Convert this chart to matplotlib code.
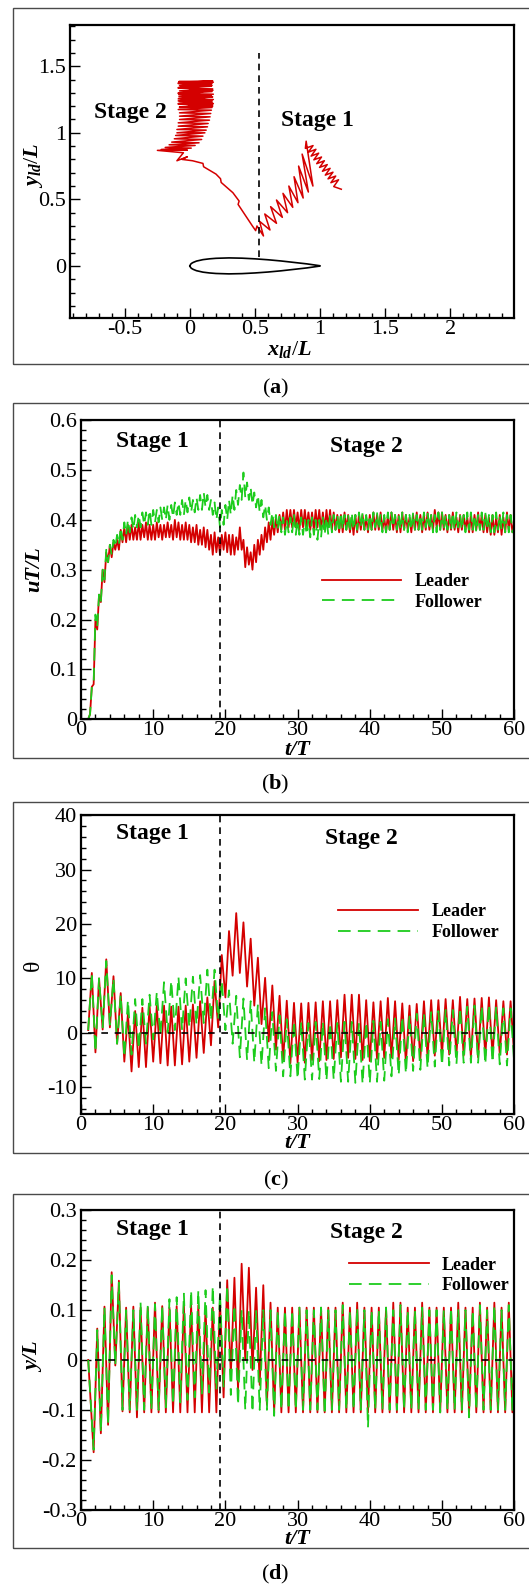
import numpy as np
import matplotlib.pyplot as plt
from matplotlib.patches import Rectangle

plt.rcParams['font.family'] = 'Liberation Serif'
plt.rcParams['mathtext.fontset'] = 'custom'
plt.rcParams['mathtext.rm'] = 'Liberation Serif'
plt.rcParams['mathtext.it'] = 'Liberation Serif:italic:bold'
plt.rcParams['mathtext.bf'] = 'Liberation Serif:bold'
plt.rcParams['axes.unicode_minus'] = False

RED = '#d40000'
GREEN = '#1ccc1c'

# ---- (a) leader trajectory relative to follower (time order) ----
# stage 1: dense band from the start point, then the zigzag down to the follower
stage1_x = [1.163, 1.105, 1.142, 1.083, 1.120, 1.061, 1.099, 1.040, 1.077, 1.018, 1.055,
            0.996, 1.033, 0.974, 1.011, 0.952, 0.989, 0.931, 0.968, 0.909, 0.946, 0.887,
            0.893,
            0.945, 0.862, 0.910, 0.835, 0.870, 0.800, 0.830, 0.760, 0.790, 0.715,
            0.750, 0.665, 0.710, 0.620, 0.665, 0.575, 0.615, 0.535, 0.565]
stage1_y = [0.576, 0.596, 0.647, 0.625, 0.675, 0.654, 0.704, 0.682, 0.733, 0.711, 0.761,
            0.740, 0.790, 0.768, 0.818, 0.797, 0.847, 0.825, 0.876, 0.854, 0.904, 0.883,
            0.937,
            0.600, 0.840, 0.555, 0.750, 0.510, 0.670, 0.475, 0.600, 0.440, 0.545,
            0.400, 0.495, 0.365, 0.445, 0.320, 0.390, 0.270, 0.335, 0.225]
# transition between the stages (long moves with small kinks)
trans_x = [0.515, 0.505, 0.48, 0.37, 0.378, 0.33, 0.24, 0.235, 0.20, 0.105, 0.10,
           0.02, -0.06, -0.02, -0.10]
trans_y = [0.30, 0.265, 0.30, 0.462, 0.487, 0.55, 0.627, 0.655, 0.69, 0.745, 0.77,
           0.79, 0.80, 0.82, 0.79]
# stage 2: side-to-side strokes drifting up, then the dense block near y = 1.2-1.4
stage2_x = [-0.05, -0.25, -0.02, -0.22, 0.01, -0.19, 0.04, -0.16, 0.07, -0.14, 0.09, -0.12,
            0.10, -0.11, 0.115, -0.10, 0.125, -0.10, 0.135, -0.09, 0.14, -0.09, 0.15, -0.08,
            0.155, -0.08, 0.16, -0.08,
            0.165, -0.09, 0.17, -0.08, 0.175, -0.09, 0.17, -0.08, 0.18, -0.09, 0.175, -0.085,
            0.18, -0.09, 0.17, -0.08, 0.175, -0.09, 0.165, -0.08, 0.17, -0.09, 0.175, -0.085,
            0.18, -0.09, 0.17, -0.08, 0.175, -0.09, 0.165, -0.085, 0.17, -0.09, 0.175, -0.08,
            0.18, -0.09, 0.17, -0.085, 0.175, -0.09, 0.165, -0.08]
stage2_y = [0.85, 0.868, 0.87, 0.875, 0.885, 0.89, 0.905, 0.91, 0.925, 0.93, 0.95, 0.955,
            0.975, 0.98, 1.00, 1.00, 1.02, 1.025, 1.045, 1.05, 1.07, 1.075, 1.095, 1.10,
            1.12, 1.125, 1.145, 1.15,
            1.17, 1.175, 1.19, 1.195, 1.21, 1.215, 1.23, 1.235, 1.25, 1.255, 1.27, 1.275,
            1.29, 1.295, 1.31, 1.315, 1.33, 1.335, 1.35, 1.355, 1.37, 1.375, 1.39, 1.385,
            1.38, 1.37, 1.355, 1.34, 1.32, 1.30, 1.28, 1.26, 1.24, 1.22, 1.20, 1.19,
            1.22, 1.24, 1.27, 1.29, 1.32, 1.34, 1.36, 1.38]

# follower airfoil (upper half thickness)
foil_x = [0.0, 0.005, 0.0125, 0.025, 0.05, 0.1, 0.15, 0.2, 0.3, 0.4, 0.5, 0.6, 0.7, 0.8, 0.9, 1.0]
foil_t = [0.0, 0.012, 0.019, 0.026, 0.036, 0.047, 0.053, 0.057, 0.060, 0.058, 0.053, 0.046,
          0.037, 0.026, 0.015, 0.001]

# ---- (b) uT/L, extrema every 0.25 T from t = 1 ----
ut_leader = [0.0, 0.01, 0.065, 0.07, 0.20, 0.18, 0.25, 0.235, 0.30, 0.275, 0.335, 0.315,
             0.35, 0.325, 0.355, 0.34, 0.36, 0.34, 0.38, 0.355, 0.385, 0.355, 0.39, 0.36,
             0.39, 0.36, 0.385, 0.36, 0.395, 0.36, 0.39, 0.365, 0.395, 0.36, 0.39, 0.36,
             0.39, 0.36, 0.395, 0.365, 0.39, 0.36, 0.39, 0.365, 0.395, 0.365, 0.39, 0.36,
             0.40, 0.365, 0.395, 0.36, 0.39, 0.36, 0.395, 0.36, 0.39, 0.355, 0.385, 0.355,
             0.39, 0.35, 0.38, 0.35, 0.385, 0.345, 0.38, 0.34, 0.37, 0.33, 0.375, 0.335,
             0.365, 0.33, 0.37, 0.34, 0.375, 0.335, 0.37, 0.33, 0.37, 0.33, 0.365, 0.34,
             0.385, 0.34, 0.36, 0.305, 0.345, 0.31, 0.335, 0.30, 0.35, 0.315, 0.36, 0.33,
             0.37, 0.34, 0.385, 0.355, 0.395, 0.36, 0.40, 0.37, 0.405, 0.375, 0.41, 0.38,
             0.415, 0.38, 0.42, 0.385, 0.42, 0.385, 0.42, 0.385, 0.415, 0.38, 0.42, 0.385,
             0.42, 0.385, 0.415, 0.38, 0.415, 0.38, 0.42, 0.385, 0.42, 0.38, 0.415, 0.38,
             0.42, 0.385, 0.42, 0.38, 0.415, 0.38, 0.41, 0.375, 0.41, 0.375, 0.415, 0.38,
             0.41, 0.375, 0.405, 0.37, 0.41, 0.375, 0.41, 0.38, 0.41, 0.38, 0.405, 0.375,
             0.41, 0.38, 0.415, 0.38, 0.41, 0.38, 0.415, 0.38, 0.405, 0.375, 0.41, 0.38,
             0.415, 0.38, 0.41, 0.375, 0.41, 0.375, 0.415, 0.38, 0.41, 0.38, 0.405, 0.375,
             0.41, 0.38, 0.415, 0.38, 0.41, 0.375, 0.41, 0.38, 0.415, 0.38, 0.41, 0.38,
             0.42, 0.385, 0.415, 0.38, 0.415, 0.38, 0.41, 0.375, 0.41, 0.38, 0.415, 0.38,
             0.405, 0.375, 0.41, 0.38, 0.41, 0.38, 0.405, 0.375, 0.41, 0.375, 0.41, 0.38,
             0.415, 0.38, 0.41, 0.375, 0.41, 0.375, 0.405, 0.37, 0.41, 0.37, 0.405, 0.375,
             0.41, 0.37, 0.405, 0.375, 0.415, 0.38, 0.41, 0.375, 0.395]
ut_follower = [0.0, 0.01, 0.065, 0.07, 0.21, 0.185, 0.25, 0.235, 0.30, 0.28, 0.34, 0.315,
               0.35, 0.33, 0.36, 0.345, 0.37, 0.35, 0.385, 0.36, 0.395, 0.37, 0.40, 0.375,
               0.405, 0.38, 0.41, 0.385, 0.41, 0.385, 0.415, 0.39, 0.415, 0.39, 0.42, 0.39,
               0.42, 0.395, 0.42, 0.395, 0.425, 0.40, 0.425, 0.40, 0.43, 0.40, 0.43, 0.405,
               0.435, 0.41, 0.435, 0.41, 0.44, 0.41, 0.44, 0.415, 0.445, 0.415, 0.44, 0.415,
               0.445, 0.42, 0.45, 0.42, 0.455, 0.425, 0.45, 0.42, 0.44, 0.41, 0.435, 0.40,
               0.425, 0.385, 0.42, 0.39, 0.43, 0.40, 0.44, 0.41, 0.45, 0.42, 0.46, 0.43,
               0.47, 0.44, 0.495, 0.445, 0.475, 0.44, 0.465, 0.43, 0.455, 0.425, 0.45, 0.415,
               0.44, 0.405, 0.43, 0.40, 0.425, 0.39, 0.415, 0.385, 0.41, 0.38, 0.41, 0.375,
               0.405, 0.37, 0.40, 0.375, 0.405, 0.375, 0.41, 0.37, 0.40, 0.37, 0.405, 0.37,
               0.40, 0.37, 0.40, 0.365, 0.405, 0.37, 0.40, 0.36, 0.40, 0.365, 0.405, 0.37,
               0.405, 0.37, 0.41, 0.375, 0.41, 0.38, 0.41, 0.375, 0.415, 0.38, 0.41, 0.38,
               0.41, 0.375, 0.415, 0.38, 0.41, 0.38, 0.415, 0.385, 0.415, 0.38, 0.41, 0.38,
               0.41, 0.38, 0.415, 0.385, 0.415, 0.38, 0.41, 0.375, 0.41, 0.375, 0.415, 0.38,
               0.415, 0.385, 0.41, 0.38, 0.41, 0.38, 0.415, 0.38, 0.41, 0.375, 0.41, 0.38,
               0.415, 0.38, 0.41, 0.38, 0.41, 0.38, 0.415, 0.385, 0.415, 0.38, 0.41, 0.375,
               0.41, 0.375, 0.415, 0.38, 0.415, 0.38, 0.41, 0.38, 0.41, 0.38, 0.415, 0.38,
               0.415, 0.385, 0.41, 0.38, 0.41, 0.375, 0.415, 0.38, 0.415, 0.38, 0.41, 0.375,
               0.41, 0.38, 0.415, 0.38, 0.415, 0.38, 0.41, 0.375, 0.41, 0.375, 0.415, 0.38,
               0.41, 0.38, 0.415, 0.375, 0.41, 0.375, 0.41, 0.375, 0.385]

# ---- (c) pitch angle, extrema every 0.5 T from t = 1 ----
theta_leader = [0.5, 11.0, -3.6, 10.0, 0.6, 13.5, 1.0, 10.4, -2.0, 7.3, -5.3, 3.5,
                -7.1, 4.0, -6.3, 4.6, -6.3, 5.0, -5.3, 5.0, -5.6, 5.0, -6.0, 4.8,
                -6.0, 4.8, -5.8, 5.0, -5.3, 5.2, -4.6, 5.8, -3.7, 6.5, -2.3, 9.5,
                1.0, 14.3, 6.5, 18.7, 10.5, 22.0, 11.0, 20.3, 8.5, 17.3, 5.0, 13.8,
                1.6, 10.1, -1.6, 8.7, -3.1, 6.8, -5.0, 5.9, -5.6, 5.5, -5.5, 5.4,
                -5.5, 5.5, -5.0, 5.6, -5.2, 5.8, -5.0, 5.8, -4.8, 6.0, -4.5, 7.0,
                -4.6, 7.0, -4.8, 7.0, -5.0, 6.0, -5.2, 5.6, -4.8, 5.8, -4.6, 6.4,
                -4.5, 5.8, -5.0, 5.4, -5.5, 5.0, -5.2, 5.3, -4.8, 5.8, -4.5, 6.0,
                -4.2, 6.0, -4.0, 6.2, -4.0, 6.0, -4.0, 6.6, -4.2, 6.2, -4.5, 6.3,
                -4.5, 6.4, -4.2, 6.5, -4.2, 6.0, -4.0, 5.8, -4.0, 5.8, -4.0]
theta_follower = [0.5, 11.0, -3.5, 10.0, 1.0, 13.2, 1.5, 10.0, -2.0, 7.0, -4.5, 6.0,
                  -4.0, 6.2, -3.0, 6.2, -2.0, 7.0, -1.2, 7.5, -0.5, 9.3, 0.0, 9.6,
                  0.5, 10.3, 0.5, 10.0, 1.0, 10.3, 1.5, 10.6, 1.8, 11.6, 2.2, 11.6,
                  2.5, 9.5, 0.5, 7.8, -2.0, 6.8, -4.5, 6.3, -5.0, 5.8, -5.5, 5.2,
                  -6.0, 4.5, -6.5, 3.8, -7.0, 3.2, -8.0, 2.5, -8.0, 2.2, -8.5, 2.0,
                  -8.6, 1.8, -8.6, 2.0, -8.5, 2.0, -8.8, 1.8, -8.6, 1.8, -9.0, 2.0,
                  -9.0, 2.0, -9.2, 1.8, -9.4, 2.0, -9.3, 2.2, -9.0, 2.0, -8.8, 2.5,
                  -8.0, 2.6, -7.8, 3.0, -7.5, 3.0, -7.0, 3.5, -6.8, 3.6, -6.5, 3.8,
                  -6.2, 4.0, -6.0, 4.2, -6.0, 4.2, -5.8, 4.6, -5.5, 4.8, -5.5, 5.0,
                  -5.5, 5.0, -5.8, 5.2, -5.5, 4.8, -5.8, 4.5, -6.0, 4.5, -5.5]

# ---- (d) lateral position: value at t = 1, then extrema every 0.5 T from t = 1.75 ----
yl_leader = [0.0, -0.185, 0.063, -0.147, 0.107, -0.13, 0.176, -0.011, 0.159, -0.103, 0.105,
             -0.105, 0.107, -0.115, 0.105, -0.105, 0.105, -0.105, 0.115, -0.105, 0.108,
             -0.105, 0.105, -0.105, 0.108, -0.105, 0.11, -0.105, 0.11, -0.105, 0.11,
             -0.105, 0.105, -0.105, 0.105, -0.105, 0.12, -0.075, 0.16, -0.03, 0.165,
             -0.06, 0.193, 0.0, 0.185, -0.02, 0.145, -0.05, 0.15, -0.09, 0.115,
             -0.105, 0.105, -0.105, 0.105, -0.105, 0.105, -0.105, 0.105, -0.105, 0.105,
             -0.105, 0.105, -0.105, 0.105, -0.105, 0.105, -0.105, 0.105, -0.105, 0.115,
             -0.105, 0.105, -0.105, 0.115, -0.105, 0.105, -0.105, 0.105, -0.105, 0.105,
             -0.105, 0.105, -0.105, 0.115, -0.105, 0.115, -0.105, 0.105, -0.105, 0.105,
             -0.105, 0.115, -0.105, 0.105, -0.105, 0.105, -0.105, 0.105, -0.105, 0.105,
             -0.105, 0.115, -0.105, 0.105, -0.105, 0.105, -0.105, 0.115, -0.105, 0.105,
             -0.105, 0.115, -0.105, 0.105, -0.105, 0.115, -0.105, 0.105]
yl_follower = [0.0, -0.18, 0.06, -0.145, 0.105, -0.13, 0.17, -0.01, 0.155, -0.1, 0.1,
               -0.1, 0.1, -0.1, 0.115, -0.1, 0.11, -0.1, 0.112, -0.1, 0.11,
               -0.095, 0.122, -0.09, 0.126, -0.085, 0.133, -0.08, 0.14, -0.075, 0.14,
               -0.07, 0.14, -0.065, 0.148, -0.06, 0.135, -0.055, 0.15, -0.07, 0.11,
               -0.09, 0.1, -0.1, 0.1, -0.105, 0.1, -0.1, 0.1, -0.1, 0.1,
               -0.112, 0.1, -0.1, 0.1, -0.1, 0.1, -0.1, 0.105, -0.1, 0.1,
               -0.1, 0.1, -0.1, 0.105, -0.11, 0.1, -0.1, 0.1, -0.1, 0.11,
               -0.1, 0.1, -0.1, 0.105, -0.1, 0.1, -0.135, 0.1, -0.1, 0.1,
               -0.1, 0.105, -0.1, 0.1, -0.1, 0.11, -0.1, 0.1, -0.1, 0.1,
               -0.1, 0.105, -0.1, 0.1, -0.1, 0.1, -0.105, 0.1, -0.1, 0.105,
               -0.1, 0.1, -0.1, 0.1, -0.115, 0.1, -0.1, 0.11, -0.1, 0.1,
               -0.1, 0.11, -0.1, 0.1, -0.1, 0.11, -0.1, 0.1]

t_switch = 19.2  # end of stage 1

t_u = 1.0 + 0.25 * np.arange(len(ut_leader))
t_th = 1.0 + 0.5 * np.arange(len(theta_leader))
t_y = np.concatenate([[1.0], 1.75 + 0.5 * np.arange(len(yl_leader) - 1)])

W, H = 529, 1584
fig = plt.figure(figsize=(W / 100, H / 100), dpi=100)


def px_axes(left, top, right, bottom):
    return fig.add_axes([left / W, 1 - bottom / H, (right - left) / W, (bottom - top) / H])


def frame(top, bottom):
    fig.add_artist(Rectangle((12.8 / W, 1 - bottom / H), (560 - 12.8) / W, (bottom - top) / H,
                             transform=fig.transFigure, fill=False, ec='#4a4a4a', lw=1.0))


def style(ax, xmaj, xlab, xminor, ymaj, ylab, yminor):
    ax.set_xticks(xmaj)
    ax.set_xticklabels(xlab)
    ax.set_xticks(xminor, minor=True)
    ax.set_yticks(ymaj)
    ax.set_yticklabels(ylab)
    ax.set_yticks(yminor, minor=True)
    ax.tick_params(which='both', direction='in', top=False, right=False, labelsize=16)
    ax.tick_params(axis='x', which='both', pad=1.5)
    ax.tick_params(axis='y', which='both', pad=3)
    ax.tick_params(which='major', length=7, width=1.0)
    ax.tick_params(which='minor', length=3.5, width=1.0)
    for s in ax.spines.values():
        s.set_linewidth(1.6)


def legend(ax, x, y):
    ax.legend(loc='center left', bbox_to_anchor=(x, y), frameon=False, borderpad=0,
              borderaxespad=0, handlelength=4.4, handletextpad=0.75, labelspacing=0.2,
              prop={'weight': 'bold', 'size': 13})


stage_kw = dict(fontsize=17, fontweight='bold', ha='center', va='center')
lab_kw = dict(fontsize=16, fontweight='bold', fontstyle='italic')
dash_k = (0, (4, 3))
dash_g = (0, (7, 4))

# ---------------- (a) ----------------
frame(8, 363.7)
ax = px_axes(70.2, 25, 514, 317.8)
ax.plot(stage1_x + trans_x + stage2_x, stage1_y + trans_y + stage2_y, color=RED, lw=1.1)
fx = np.array(foil_x)
ft = np.array(foil_t)
ax.plot(np.concatenate([fx, fx[::-1]]), np.concatenate([ft, -ft[::-1]]), color='k', lw=1.2)
ax.plot([0.534, 0.534], [0.07, 1.60], color='k', lw=1.2, ls=dash_k)
ax.set_xlim(-0.92, 2.49)
ax.set_ylim(-0.39, 1.81)
style(ax, [-0.5, 0, 0.5, 1, 1.5, 2], ['-0.5', '0', '0.5', '1', '1.5', '2'],
      np.arange(-0.9, 2.45, 0.1),
      [0, 0.5, 1, 1.5], ['0', '0.5', '1', '1.5'], np.arange(-0.3, 1.85, 0.1))
ax.text(-0.456, 1.153, 'Stage 2', **stage_kw)
ax.text(0.977, 1.089, 'Stage 1', **stage_kw)
ax.set_xlabel(r'$x_{ld}/L$', fontsize=16, va='center')
ax.xaxis.set_label_coords(0.495, -0.108)
ax.set_ylabel(r'$y_{ld}/L$', fontsize=16, va='center', ha='center')
ax.yaxis.set_label_coords(-0.082, 0.522)
fig.text(275.6 / W, 1 - 388 / H, r'($\mathbf{a}$)', fontsize=16, ha='center', va='center')

# ---------------- (b) ----------------
frame(403.4, 758.3)
ax = px_axes(81, 420.2, 514.2, 719.2)
ax.plot(t_u, ut_leader, color=RED, lw=1.3, label='Leader')
ax.plot(t_u, ut_follower, color=GREEN, lw=1.3, ls=dash_g, label='Follower')
ax.axvline(t_switch, color='k', lw=1.2, ls=dash_k, zorder=5)
ax.set_xlim(0, 60)
ax.set_ylim(0, 0.6)
style(ax, np.arange(0, 61, 10), ['0', '10', '20', '30', '40', '50', '60'], np.arange(0, 61, 2),
      np.arange(0, 0.61, 0.1), ['0', '0.1', '0.2', '0.3', '0.4', '0.5', '0.6'],
      np.arange(0, 0.601, 0.02))
ax.text(9.86, 0.557, 'Stage 1', **stage_kw)
ax.text(39.5, 0.548, 'Stage 2', **stage_kw)
legend(ax, 0.556, 0.426)
ax.set_xlabel('t/T', va='center', **lab_kw)
ax.xaxis.set_label_coords(0.4986, -0.102)
ax.set_ylabel('uT/L', va='center', ha='center', **lab_kw)
ax.yaxis.set_label_coords(-0.109, 0.503)
fig.text(275.6 / W, 1 - 784.6 / H, r'($\mathbf{b}$)', fontsize=16, ha='center', va='center')

# ---------------- (c) ----------------
frame(802, 1153)
ax = px_axes(81, 815.2, 514.2, 1114.4)
ax.plot(t_th, theta_leader, color=RED, lw=1.3, label='Leader')
ax.plot(t_th, theta_follower, color=GREEN, lw=1.3, ls=dash_g, label='Follower')
ax.plot([1, 60], [0, 0], color='k', lw=1.2, ls=(0, (4, 4)), zorder=5)
ax.axvline(t_switch, color='k', lw=1.2, ls=dash_k, zorder=5)
ax.set_xlim(0, 60)
ax.set_ylim(-15, 40)
style(ax, np.arange(0, 61, 10), ['0', '10', '20', '30', '40', '50', '60'], np.arange(0, 61, 2),
      np.arange(-10, 41, 10), ['-10', '0', '10', '20', '30', '40'], np.arange(-14, 41, 2))
ax.text(9.86, 36.6, 'Stage 1', **stage_kw)
ax.text(38.85, 35.66, 'Stage 2', **stage_kw)
legend(ax, 0.594, 0.643)
ax.set_xlabel('t/T', va='center', **lab_kw)
ax.xaxis.set_label_coords(0.4986, -0.095)
ax.set_ylabel('θ', fontsize=17, va='center', ha='center')
ax.yaxis.set_label_coords(-0.109, 0.498)
fig.text(275.6 / W, 1 - 1180.6 / H, r'($\mathbf{c}$)', fontsize=16, ha='center', va='center')

# ---------------- (d) ----------------
frame(1193.5, 1548.4)
ax = px_axes(81, 1210.4, 514.2, 1509.6)
ax.plot(t_y, yl_leader, color=RED, lw=1.3, label='Leader')
ax.plot(t_y, yl_follower, color=GREEN, lw=1.3, ls=dash_g, label='Follower')
ax.plot([2, 60], [0, 0], color='k', lw=1.2, ls=(0, (4, 4)), zorder=5)
ax.axvline(t_switch, color='k', lw=1.2, ls=dash_k, zorder=5)
ax.set_xlim(0, 60)
ax.set_ylim(-0.3, 0.3)
style(ax, np.arange(0, 61, 10), ['0', '10', '20', '30', '40', '50', '60'], np.arange(0, 61, 2),
      np.arange(-0.3, 0.31, 0.1), ['-0.3', '-0.2', '-0.1', '0', '0.1', '0.2', '0.3'],
      np.arange(-0.3, 0.301, 0.02))
ax.text(9.86, 0.2615, 'Stage 1', **stage_kw)
ax.text(39.5, 0.2547, 'Stage 2', **stage_kw)
legend(ax, 0.619, 0.783)
ax.set_xlabel('t/T', va='center', **lab_kw)
ax.xaxis.set_label_coords(0.4986, -0.099)
ax.set_ylabel('y/L', va='center', ha='center', **lab_kw)
ax.yaxis.set_label_coords(-0.109, 0.51)
fig.text(275.6 / W, 1 - 1574.7 / H, r'($\mathbf{d}$)', fontsize=16, ha='center', va='center')

fig.savefig('out.png', dpi=100)
